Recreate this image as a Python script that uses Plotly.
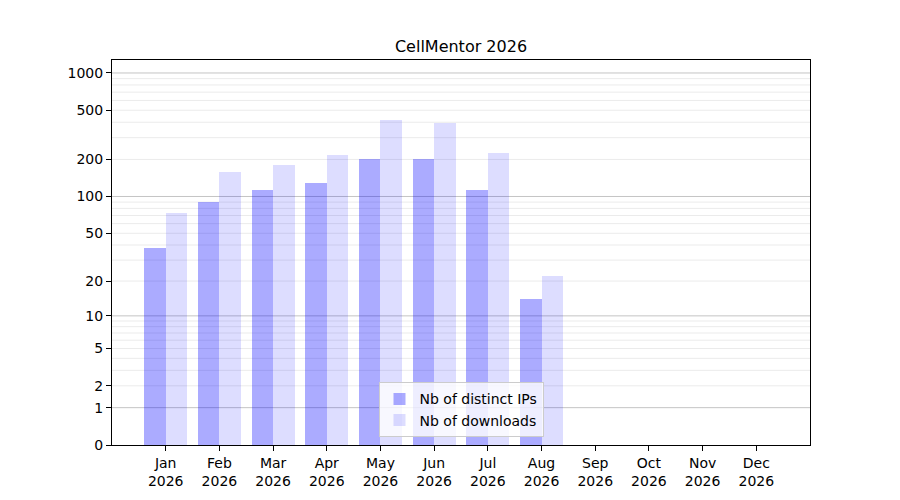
import numpy as np
import plotly.graph_objects as go

months = ["Jan", "Feb", "Mar", "Apr", "May", "Jun", "Jul", "Aug", "Sep", "Oct", "Nov", "Dec"]
year = "2026"
distinct_ips = [38, 91, 112, 128, 200, 200, 112, 14, 0, 0, 0, 0]
downloads = [74, 157, 179, 216, 415, 393, 224, 22, 0, 0, 0, 0]
y_tick_values = [0, 1, 2, 5, 10, 20, 50, 100, 200, 500, 1000]
major_grid = [1, 10, 100, 1000]
minor_grid = [m * d for d in [1, 10, 100] for m in range(2, 10)]

def tr(v):
    return np.log10(1 + np.asarray(v, dtype=float))

x = np.arange(len(months))
bw = 0.4

fig = go.Figure()
fig.add_trace(go.Bar(x=x, y=tr(distinct_ips), width=bw, offset=-bw,
                     name="Nb of distinct IPs", marker=dict(color="rgba(0,0,255,0.33)", line=dict(width=0))))
fig.add_trace(go.Bar(x=x, y=tr(downloads), width=bw, offset=0,
                     name="Nb of downloads", marker=dict(color="rgba(0,0,255,0.135)", line=dict(width=0))))

shapes = []
for v in minor_grid:
    shapes.append(dict(type="line", xref="paper", yref="y", x0=0, x1=1, y0=float(tr(v)), y1=float(tr(v)),
                       line=dict(color="#ebebeb", width=1), layer="below"))
for v in major_grid:
    shapes.append(dict(type="line", xref="paper", yref="y", x0=0, x1=1, y0=float(tr(v)), y1=float(tr(v)),
                       line=dict(color="#c4c4c4", width=1), layer="below"))

font = "DejaVu Sans"
W, H = 892, 492
fig.update_layout(
    width=W, height=H,
    margin=dict(l=104, r=90, t=52, b=55),
    paper_bgcolor="white", plot_bgcolor="white",
    title=dict(text="CellMentor 2026", x=453 / W, xanchor="center", y=1 - 38 / H, yanchor="middle",
               font=dict(family=font, size=16, color="black")),
    font=dict(family=font, size=14, color="black"),
    barmode="overlay",
    bargap=0,
    shapes=shapes,
    showlegend=True,
    legend=dict(x=0.5, y=0.02, xanchor="center", yanchor="bottom",
                bgcolor="rgba(255,255,255,0.8)", bordercolor="#cccccc", borderwidth=1,
                font=dict(family=font, size=14, color="black"), tracegroupgap=0),
)
fig.update_xaxes(range=[-1, 12], tickmode="array", tickvals=x,
                 ticktext=[f"{m}<br>{year}" for m in months],
                 showgrid=False, zeroline=False, showline=True, linecolor="black", linewidth=1, mirror=True,
                 ticks="outside", ticklen=5, tickcolor="black", tickfont=dict(size=14))
fig.update_yaxes(range=[0, 3.105], tickmode="array", tickvals=tr(y_tick_values),
                 ticktext=[str(v) for v in y_tick_values],
                 showgrid=False, zeroline=False, showline=True, linecolor="black", linewidth=1, mirror=True,
                 ticks="outside", ticklen=5, tickcolor="black", tickfont=dict(size=14))

fig.write_html("out.html")
